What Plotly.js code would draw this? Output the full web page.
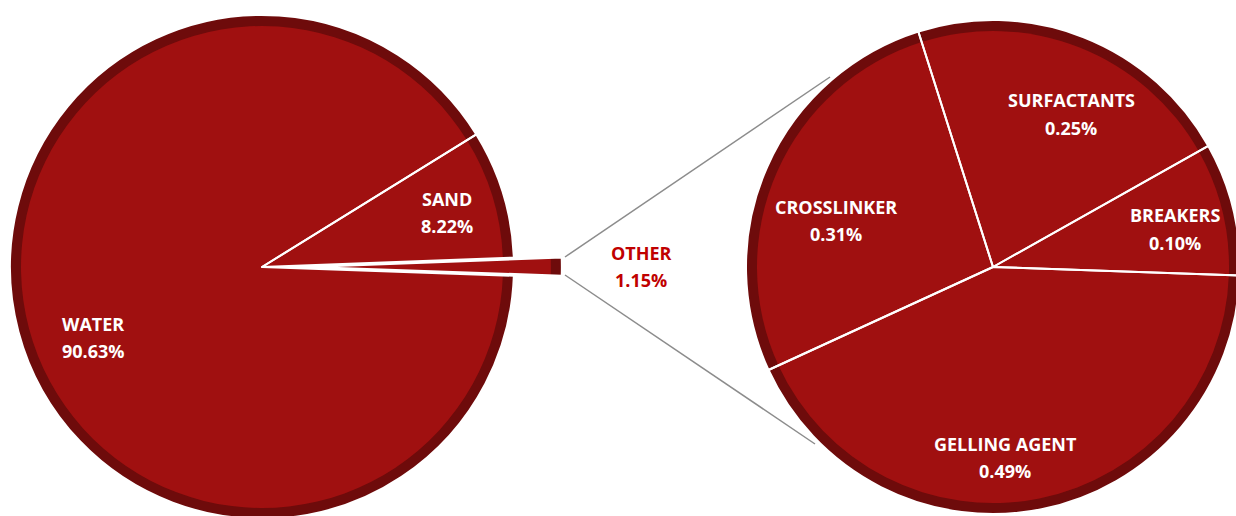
<!DOCTYPE html>
<html>
<head>
<meta charset="utf-8">
<script src="https://cdn.plot.ly/plotly-3.0.1.min.js"></script>
<style>
  html, body { margin: 0; padding: 0; overflow: hidden; background: #ffffff; width: 1236px; height: 516px; }
  #chart { position: absolute; left: -40px; top: -40px; }
</style>
</head>
<body>
<div id="chart"></div>
<script>
// ---- data ----
const leftLabels = ['WATER', 'SAND', 'OTHER'];
const leftValues = [90.63, 8.22, 1.15];
const rightLabels = ['SURFACTANTS', 'BREAKERS', 'GELLING AGENT', 'CROSSLINKER'];
const rightValues = [0.25, 0.10, 0.49, 0.31];

// ---- geometry / style ----
const OFF_L = 40, OFF_T = 40;
const W = 1316, H = 640;
const MAIN = '#a01010';
const RIM = '#6e0b0b';
const RIM_W = 11;

function px(sx) { return (sx + OFF_L) / W; }
function py(sy) { return 1 - (sy + OFF_T) / H; }
function dom(cx, cy, half) {
  return { x: [px(cx - half), px(cx + half)], y: [py(cy + half), py(cy - half)] };
}

function pieTraces(labels, values, cx, cy, R, pulledLabel, pullFrac, rotation) {
  const pull = labels.map(l => l === pulledLabel ? pullFrac : 0);
  const shift = pullFrac * R;
  const rIn = R - RIM_W;
  const pullIn = labels.map(l => l === pulledLabel ? shift / rIn : 0);
  const common = {
    type: 'pie', labels: labels, values: values, sort: false,
    direction: 'clockwise', rotation: rotation, textinfo: 'none',
    hoverinfo: 'label+value', showlegend: false
  };
  return [
    Object.assign({}, common, {
      domain: dom(cx, cy, R + shift), pull: pull,
      marker: { colors: labels.map(() => RIM), line: { width: 0 } }
    }),
    Object.assign({}, common, {
      domain: dom(cx, cy, rIn + shift), pull: pullIn,
      marker: { colors: labels.map(() => MAIN), line: { width: 0 } }
    }),
    Object.assign({}, common, {
      domain: dom(cx, cy, R + shift), pull: pull,
      marker: { colors: labels.map(() => 'rgba(0,0,0,0)'), line: { width: 2, color: '#ffffff' } }
    })
  ];
}

const traces = []
  .concat(pieTraces(leftLabels, leftValues, 262, 267, 252, 'OTHER', 0.19, 92))
  .concat(pieTraces(rightLabels, rightValues, 993, 267, 247, null, 0, -17.6));

// label positions (screen px, centre of the two-line block)
const leftPos = { 'WATER': [93, 337], 'SAND': [447, 212], 'OTHER': [641, 266] };
const rightPos = { 'SURFACTANTS': [1071, 114], 'BREAKERS': [1175, 229], 'GELLING AGENT': [1005, 457], 'CROSSLINKER': [836, 220] };

function fmt(v) { return v.toFixed(2) + '%'; }
const annotations = [];
function addLabel(name, value, pos, color) {
  const font = { family: 'Open Sans, sans-serif', size: 18, color: color, weight: 700 };
  [[name, -13.5], [fmt(value), 13.5]].forEach(([t, dy]) => {
    annotations.push({
      xref: 'paper', yref: 'paper', x: px(pos[0]), y: py(pos[1] + dy),
      xanchor: 'center', yanchor: 'middle', showarrow: false,
      text: '<b>' + t + '</b>', font: font
    });
  });
}
leftLabels.forEach((l, i) => addLabel(l, leftValues[i], leftPos[l], l === 'OTHER' ? '#c00000' : '#ffffff'));
rightLabels.forEach((l, i) => addLabel(l, rightValues[i], rightPos[l], '#ffffff'));

const shapes = [
  { type: 'line', xref: 'paper', yref: 'paper', x0: px(565), y0: py(257), x1: px(830), y1: py(77),
    line: { color: '#8c8c8c', width: 1.5 } },
  { type: 'line', xref: 'paper', yref: 'paper', x0: px(565), y0: py(275), x1: px(815), y1: py(444),
    line: { color: '#8c8c8c', width: 1.5 } }
];

const layout = {
  width: W, height: H,
  margin: { l: 0, r: 0, t: 0, b: 0, pad: 0 },
  paper_bgcolor: '#ffffff', plot_bgcolor: '#ffffff',
  showlegend: false,
  annotations: annotations,
  shapes: shapes
};

Plotly.newPlot('chart', traces, layout, { displayModeBar: false, staticPlot: true });
</script>
</body>
</html>
